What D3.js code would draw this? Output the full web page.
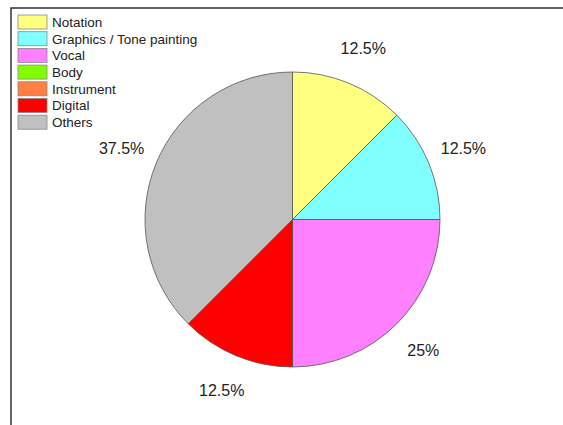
<!DOCTYPE html>
<html>
<head>
<meta charset="utf-8">
<script src="https://cdn.jsdelivr.net/npm/d3@7"></script>
<style>
  body { margin: 0; background: #fff; }
  svg { display: block; font-family: "Liberation Sans", Arial, sans-serif; }
</style>
</head>
<body>
<svg width="563" height="425"></svg>
<script>
// The data:
const categories = ['Notation', 'Graphics / Tone painting', 'Vocal', 'Body', 'Instrument', 'Digital', 'Others']
const shares = [12.5, 12.5, 25, 0, 0, 12.5, 37.5]
const colors = ['#ffff80', '#80ffff', '#ff80ff', '#80ff00', '#ff8040', '#ff0000', '#c0c0c0']

const svg = d3.select('svg')

// Frame (runs off right and bottom edges like the reference)
svg.append('rect')
  .attr('x', 11).attr('y', 8)
  .attr('width', 600).attr('height', 460)
  .attr('fill', 'none')
  .attr('stroke', '#333')
  .attr('stroke-width', 1.5)

// Pie
const cx = 292.5, cy = 219.5, r = 147.5
const data = categories.map((c, i) => ({ name: c, value: shares[i], color: colors[i] }))

const pie = d3.pie().sort(null).value((d) => d.value)
const arcs = pie(data)
const arc = d3.arc().innerRadius(0).outerRadius(r)
const labelArc = d3.arc().innerRadius(185).outerRadius(185)

const g = svg.append('g').attr('transform', `translate(${cx},${cy})`)

g.selectAll('path')
  .data(arcs.filter((d) => d.value > 0))
  .enter()
  .append('path')
  .attr('d', arc)
  .attr('fill', (d) => d.data.color)
  .attr('stroke', '#555')
  .attr('stroke-width', 0.8)
  .attr('stroke-linejoin', 'round')

g.selectAll('text')
  .data(arcs.filter((d) => d.value > 0))
  .enter()
  .append('text')
  .attr('transform', (d) => `translate(${labelArc.centroid(d)})`)
  .attr('text-anchor', 'middle')
  .attr('dy', '0.35em')
  .attr('font-size', 16)
  .attr('fill', '#222')
  .text((d) => d3.format('.3~')(d.data.value) + '%')

// Legend
const legend = svg.append('g').attr('transform', 'translate(18,15)')
const row = legend.selectAll('g')
  .data(data)
  .enter()
  .append('g')
  .attr('transform', (d, i) => `translate(0,${i * 16.7})`)

row.append('rect')
  .attr('width', 29).attr('height', 14)
  .attr('fill', (d) => d.color)
  .attr('stroke', '#888')
  .attr('stroke-width', 0.8)

row.append('text')
  .attr('x', 34).attr('y', 7)
  .attr('dy', '0.36em')
  .attr('font-size', 13.5)
  .attr('fill', '#222')
  .text((d) => d.name)
</script>
</body>
</html>
